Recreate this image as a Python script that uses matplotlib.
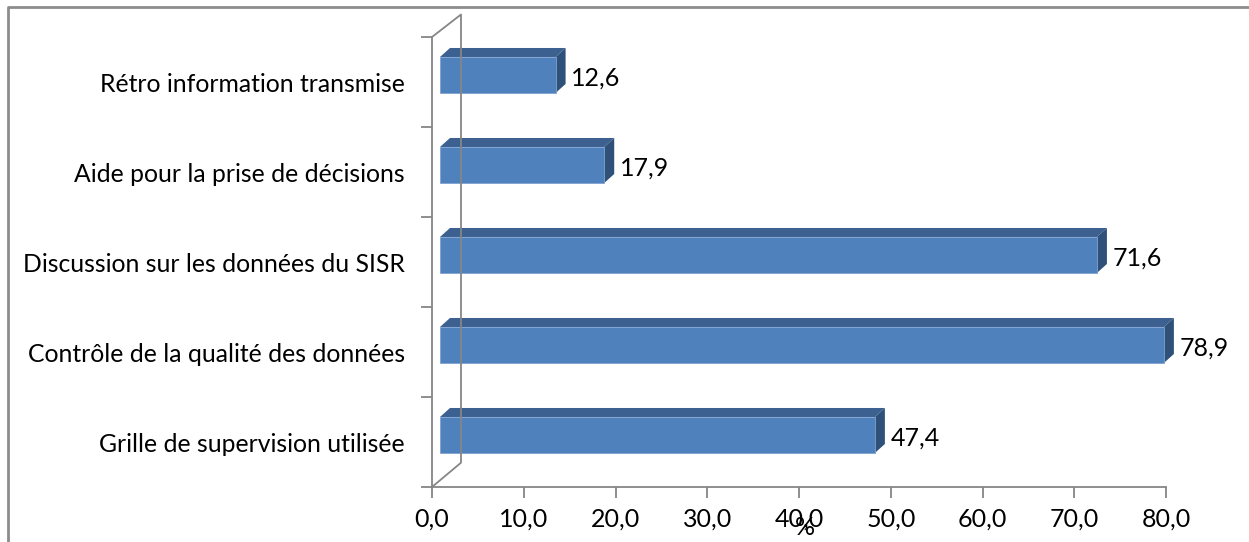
import matplotlib.pyplot as plt
from matplotlib.patches import Polygon, Rectangle
import numpy as np

# data (bottom to top)
categories = ['Grille de supervision utilisée',
              'Contrôle de la qualité des données',
              'Discussion sur les données du SISR',
              'Aide pour la prise de décisions',
              'Rétro information transmise']
values = [47.4, 78.9, 71.6, 17.9, 12.6]
xticks = np.arange(0, 81, 10)

plt.rcParams['font.family'] = ['Lato', 'DejaVu Sans']

fig = plt.figure(figsize=(12.49, 5.42), dpi=100)
ax = fig.add_axes([432 / 1249, 55 / 542, 734 / 1249, 450 / 542])
ax.set_xlim(0, 80)
ax.set_ylim(0, 5)

# chart frame (cropped)
fig.add_artist(plt.Line2D([8 / 1249, 8 / 1249, 1.0], [0, 535 / 542, 535 / 542],
                          transform=fig.transFigure, color='#8c8c8c', lw=2))

grey = '#868686'
# 3D wall: back wall offset
wx, wy = 3.16, 0.27
ax.plot([0, wx, wx, 0], [0, wy, 5 + wy - 0.02, 5], color=grey, lw=1.3, clip_on=False)

front = '#4f81bd'
top = '#3c6191'
side = '#2f5078'
x0 = 0.87          # bar start
dx, dy = 1.09, 0.1  # bar depth
half = 0.2
for i, v in enumerate(values):
    c = i + 0.5 + 0.078
    y1, y2 = c - half, c + half
    x1, x2 = x0, x0 + v
    ax.add_patch(Polygon([(x1, y2), (x2, y2), (x2 + dx, y2 + dy), (x1 + dx, y2 + dy)],
                         closed=True, fc=top, ec='none', clip_on=False))
    ax.add_patch(Polygon([(x2, y1), (x2 + dx, y1 + dy), (x2 + dx, y2 + dy), (x2, y2)],
                         closed=True, fc=side, ec='none', clip_on=False))
    ax.add_patch(Rectangle((x1, y1), v, 2 * half, fc=front, ec='#7fa2d0', lw=0.6,
                           clip_on=False))
    ax.text(x2 + dx + 0.6, c - 0.03, f'{v:.1f}'.replace('.', ','), fontsize=18,
            va='center', ha='left')

# axes styling
for s in ['top', 'right']:
    ax.spines[s].set_visible(False)
ax.spines['left'].set_color(grey)
ax.spines['bottom'].set_color(grey)
ax.spines['left'].set_linewidth(1.3)
ax.spines['bottom'].set_linewidth(1.3)

ax.set_xticks(xticks)
ax.set_xticklabels([f'{t:.1f}'.replace('.', ',') for t in xticks], fontsize=18)
ax.tick_params(axis='x', direction='out', length=8, width=1.3, color=grey, pad=7)

ax.set_yticks(np.arange(0, 6))
ax.set_yticklabels([])
ax.set_yticks(np.arange(5) + 0.5, minor=True)
ax.set_yticklabels(categories, minor=True, fontsize=17.8)
ax.tick_params(axis='y', which='major', direction='out', length=8, width=1.3, color=grey)
ax.tick_params(axis='y', which='minor', length=0, pad=19.5)

ax.set_xlabel('%', fontsize=18)
ax.xaxis.set_label_coords(0.508, -0.065)
ax.patch.set_visible(False)

fig.savefig('out.png', dpi=100)
